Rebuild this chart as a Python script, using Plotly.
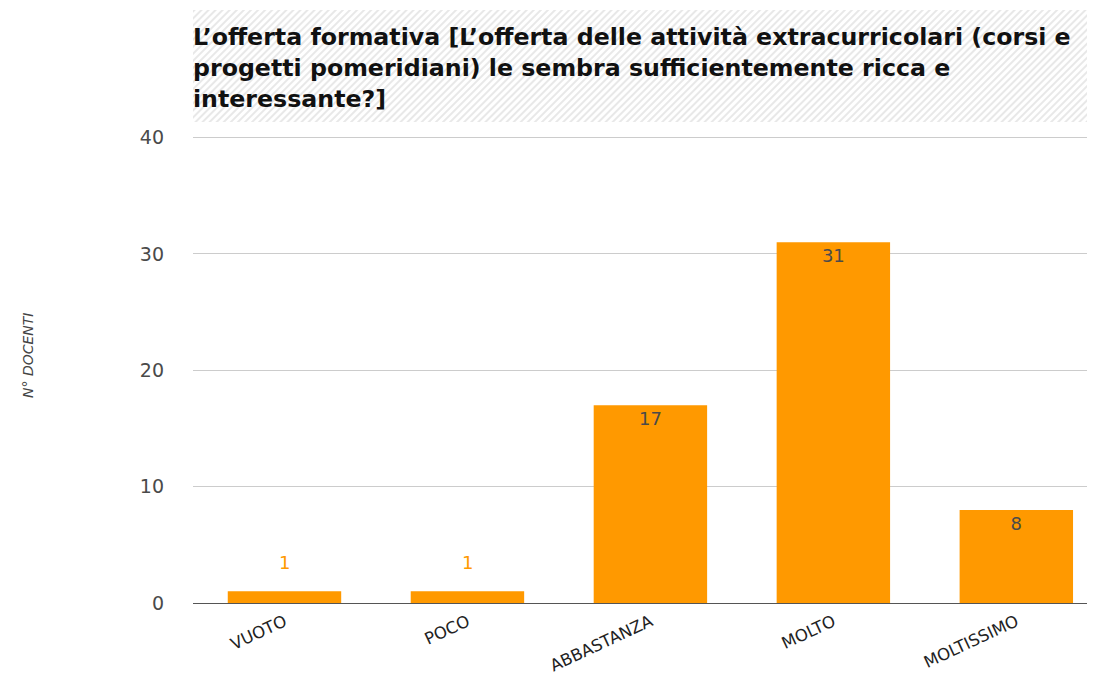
import base64
import plotly.graph_objects as go

categories = ["VUOTO", "POCO", "ABBASTANZA", "MOLTO", "MOLTISSIMO"]
docenti = [1, 1, 17, 31, 8]
title_lines = [
    "L\u2019offerta formativa [L\u2019offerta delle attività extracurricolari (corsi e",
    "progetti pomeridiani) le sembra sufficientemente ricca e",
    "interessante?]",
]

ORANGE = "#FF9900"
FONT = "DejaVu Sans, Arial"
Y_MAX = 40.3
PH = 469          # plot height in px
BOTTOM = 603      # screen y of the x axis


def py(screen_y):
    """screen y (px) -> paper fraction"""
    return (BOTTOM - screen_y) / PH


# hatched background behind the title
hatch_svg = (
    "<svg xmlns='http://www.w3.org/2000/svg' width='902' height='112'>"
    "<defs><pattern id='h' width='5' height='5' patternUnits='userSpaceOnUse' "
    "patternTransform='rotate(45)'>"
    "<rect width='5' height='5' fill='#ffffff'/>"
    "<rect width='2' height='5' fill='#e8e8e8'/></pattern></defs>"
    "<rect width='902' height='112' fill='url(#h)'/></svg>"
)
hatch_uri = "data:image/svg+xml;base64," + base64.b64encode(hatch_svg.encode()).decode()

# big bars carry their label inside, tiny ones get an orange label above
inside_text = [str(v) if v >= 5 else "" for v in docenti]
small_labels = [dict(
    x=c, y=v, xref="x", yref="y", text=str(v), showarrow=False,
    yanchor="bottom", yshift=16,
    font=dict(size=18, color=ORANGE, family=FONT),
) for c, v in zip(categories, docenti) if v < 5]

fig = go.Figure(go.Bar(
    x=categories,
    y=docenti,
    text=inside_text,
    textposition="inside",
    insidetextanchor="end",
    textfont=dict(color="#4a4a4a", size=18, family=FONT),
    marker=dict(color=ORANGE, line=dict(width=0)),
    cliponaxis=False,
))

fig.update_layout(
    width=1087,
    height=671,
    paper_bgcolor="white",
    plot_bgcolor="white",
    font=dict(family=FONT, size=14, color="#444444"),
    margin=dict(l=185, r=0, t=126, b=76),
    bargap=0.38,
    showlegend=False,
    xaxis=dict(
        range=[-0.5, 4.43],
        tickangle=-25,
        tickfont=dict(size=16.5, color="#222222"),
        ticklabelstandoff=2,
        automargin=False,
        showgrid=False,
        showline=True,
        linecolor="#555555",
        linewidth=1,
        ticks="",
    ),
    yaxis=dict(
        range=[0, Y_MAX],
        tickvals=[0, 10, 20, 30, 40],
        tickfont=dict(size=19, color="#4a4a4a"),
        gridcolor="#cccccc",
        zeroline=False,
        ticklabelstandoff=28,
        automargin=False,
    ),
    images=[dict(
        source=hatch_uri,
        xref="paper", yref="paper",
        x=0, y=py(10),
        sizex=1, sizey=112 / PH,
        xanchor="left", yanchor="top",
        sizing="stretch",
        layer="below",
    )],
    annotations=[
        dict(
            text="<br>".join(title_lines),
            xref="paper", yref="paper",
            x=0, y=py(21),
            xanchor="left", yanchor="top",
            xshift=-2,
            align="left",
            showarrow=False,
            font=dict(size=23.7, color="#111111", family=FONT, weight="bold"),
        ),
        dict(
            text="<i>N° DOCENTI</i>",
            xref="paper", yref="paper",
            x=-(193 - 28) / 902, y=py(355),
            xanchor="center", yanchor="middle",
            textangle=-90,
            showarrow=False,
            font=dict(size=14, color="#444444", family=FONT),
        ),
    ] + small_labels,
)

fig.write_html("out.html")
